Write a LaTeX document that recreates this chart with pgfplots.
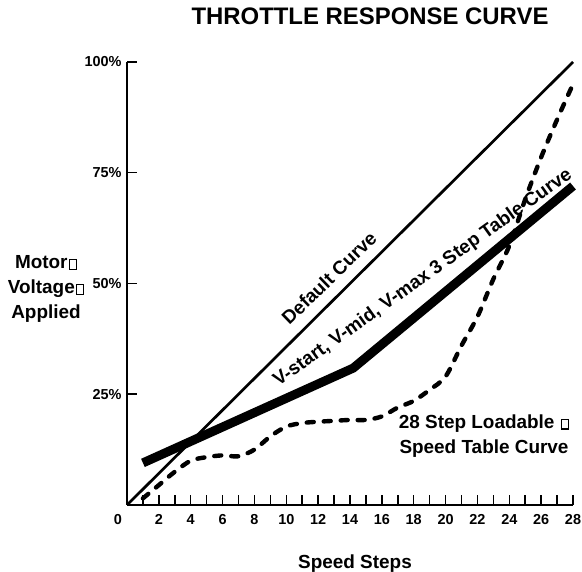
\documentclass[border=0pt]{standalone}
\usepackage{fontspec}
\setmainfont{Liberation Sans}
\usepackage{pgfplots}
\pgfplotsset{compat=1.18}
\newcommand{\bx}{\hspace{1.5bp}{\setlength{\fboxsep}{0pt}\setlength{\fboxrule}{1.2bp}\fbox{\rule{0pt}{8.5bp}\rule{5.5bp}{0pt}}}}
\begin{document}
\begin{tikzpicture}[x=1bp,y=1bp]
\useasboundingbox (0,0) rectangle (582,572);
\begin{axis}[
  at={(127bp,67bp)}, anchor=south west,
  scale only axis, width=446bp, height=443bp,
  xmin=0, xmax=28, ymin=0, ymax=100,
  axis x line=bottom, axis y line=left,
  axis line style={line width=1.8bp, -},
  clip=false,
  tick align=inside,
  major tick length=10bp,
  tick style={line width=1.5bp, black},
  xtick={1,...,28},
  xticklabels={,2,,4,,6,,8,,10,,12,,14,,16,,18,,20,,22,,24,,26,,28},
  extra x ticks={0}, extra x tick labels={0},
  extra x tick style={major tick length=0pt, xticklabel style={xshift=-9bp}},
  xticklabel style={font=\fontsize{14.5}{16}\selectfont\bfseries, yshift=-6bp},
  ytick={25,50,75,100},
  yticklabels={25\%,50\%,75\%,100\%},
  yticklabel style={font=\fontsize{14.5}{16}\selectfont\bfseries, xshift=-2bp},
]
\addplot[black, line width=2.7bp] coordinates {(0,0) (28,100)};
\addplot[black, line width=9bp, line cap=butt, line join=miter] coordinates {(1,9.5) (14.2,30.9) (28,72)};
\addplot[black, line width=4.4bp, line cap=round, dash pattern=on 7bp off 10bp, smooth, tension=0.5] coordinates {
(1,1.5) (2,4.5) (3,7.5) (4,10) (5,10.8) (6,11.2) (7,11) (8,12.5) (9,15.5) (10,17.7)
(11,18.5) (12,18.8) (13,19) (14,19.2) (15,19.2) (16,20) (17,22) (18,23.5) (19,26)
(20,29) (21,36) (22,42.5) (23,51) (24,58.5) (25,69) (26,78.5) (27,87) (28,95)};
\end{axis}
\node[font=\fontsize{24}{28}\selectfont\bfseries] at (370,556) {THROTTLE RESPONSE CURVE};
\node[font=\fontsize{19}{25}\selectfont\bfseries, align=center] at (46,283) {Motor\bx\\Voltage\bx\\Applied};
\node[font=\fontsize{19}{22}\selectfont\bfseries] at (355,8) {Speed Steps};
\node[font=\fontsize{19}{25}\selectfont\bfseries, align=center] at (484,136) {28 Step Loadable \bx\\Speed Table Curve};
\node[font=\fontsize{19}{22}\selectfont\bfseries, rotate=44] at (329,294) {Default Curve};
\node[font=\fontsize{19}{22}\selectfont\bfseries, rotate=35.5] at (423,294) {V-start, V-mid, V-max 3 Step Table Curve};
\end{tikzpicture}
\end{document}
